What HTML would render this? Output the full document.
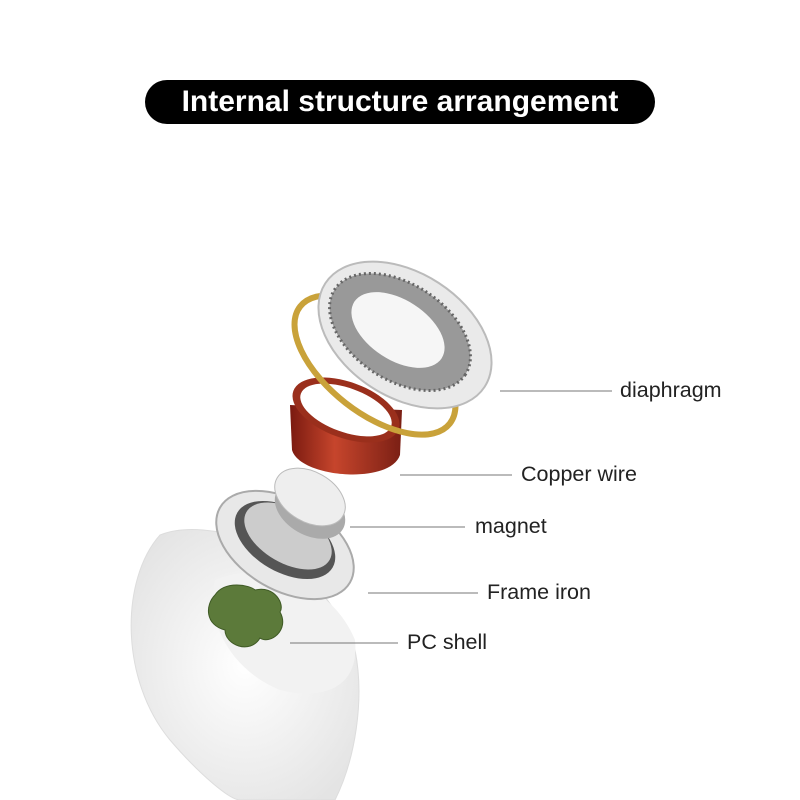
<!DOCTYPE html>
<html><head><meta charset="utf-8"><style>
body{margin:0;width:800px;height:800px;background:#fff;overflow:hidden;font-family:"Liberation Sans",sans-serif}
.t{position:absolute;left:145px;top:80px;width:510px;height:44px;background:#000;border-radius:22px;color:#fff;font-weight:bold;font-size:30px;text-align:center;line-height:44px}
.l{position:absolute;font-size:21.5px;color:#222}
</style></head><body>
<div class="t">Internal structure arrangement</div>
<svg width="800" height="800" style="position:absolute;left:0;top:0">
<defs>
<radialGradient id="e" cx="0.5" cy="0.5" r="0.6"><stop offset="0" stop-color="#fff"/><stop offset="1" stop-color="#e4e4e4"/></radialGradient>
<linearGradient id="cu" x1="0" x2="1"><stop offset="0" stop-color="#7a1a10"/><stop offset="0.4" stop-color="#c6452c"/><stop offset="1" stop-color="#7a1f14"/></linearGradient>
</defs>
<path d="M160 535 C120 580 120 680 170 740 C200 775 230 800 240 800 L335 800 C355 760 365 700 355 650 C335 600 300 560 250 540 C220 530 185 525 160 535Z" fill="url(#e)" stroke="#ddd"/>
<path d="M215 580 C260 560 330 580 355 640 C360 690 320 700 280 690 C230 670 205 620 215 580Z" fill="#f2f2f2"/>
<ellipse cx="285" cy="545" rx="75" ry="45" transform="rotate(30 285 545)" fill="#e8e8e8" stroke="#aaa" stroke-width="2"/>
<ellipse cx="285" cy="540" rx="55" ry="32" transform="rotate(30 285 540)" fill="#555"/>
<ellipse cx="288" cy="536" rx="48" ry="27" transform="rotate(30 288 536)" fill="#ccc"/>
<ellipse cx="310" cy="510" rx="38" ry="25" transform="rotate(30 310 510)" fill="#aaa"/>
<ellipse cx="310" cy="497" rx="38" ry="25" transform="rotate(30 310 497)" fill="#eee" stroke="#bbb"/>
<path d="M215 595 C225 580 250 585 255 590 C275 585 285 605 280 612 C290 630 270 645 260 638 C250 655 225 645 225 630 C205 625 205 605 215 595Z" fill="#5c7a3a" stroke="#3f5a25"/>
<path d="M290 405 L292 450 C300 478 390 485 400 455 L402 410Z" fill="url(#cu)"/>
<ellipse cx="346" cy="410" rx="56" ry="28" transform="rotate(20 346 410)" fill="#9a2f1c"/>
<ellipse cx="346" cy="410" rx="48" ry="22" transform="rotate(20 346 410)" fill="#fff"/>
<ellipse cx="375" cy="365" rx="95" ry="48" transform="rotate(38 375 365)" fill="none" stroke="#c9a23a" stroke-width="6"/>
<ellipse cx="405" cy="335" rx="95" ry="62" transform="rotate(33 405 335)" fill="#eaeaea" stroke="#bbb" stroke-width="2"/>
<ellipse cx="400" cy="332" rx="78" ry="48" transform="rotate(33 400 332)" fill="#999" stroke="#666" stroke-width="3" stroke-dasharray="2 3"/>
<ellipse cx="398" cy="330" rx="52" ry="30" transform="rotate(33 398 330)" fill="#f6f6f6"/>
<g stroke="#777" stroke-width="1">
<line x1="500" y1="391" x2="612" y2="391"/>
<line x1="400" y1="475" x2="512" y2="475"/>
<line x1="350" y1="527" x2="465" y2="527"/>
<line x1="368" y1="593" x2="478" y2="593"/>
<line x1="290" y1="643" x2="398" y2="643"/>
</g>
</svg>
<div class="l" style="left:620px;top:378px">diaphragm</div>
<div class="l" style="left:521px;top:462px">Copper wire</div>
<div class="l" style="left:475px;top:514px">magnet</div>
<div class="l" style="left:487px;top:580px">Frame iron</div>
<div class="l" style="left:407px;top:630px">PC shell</div>
</body></html>
